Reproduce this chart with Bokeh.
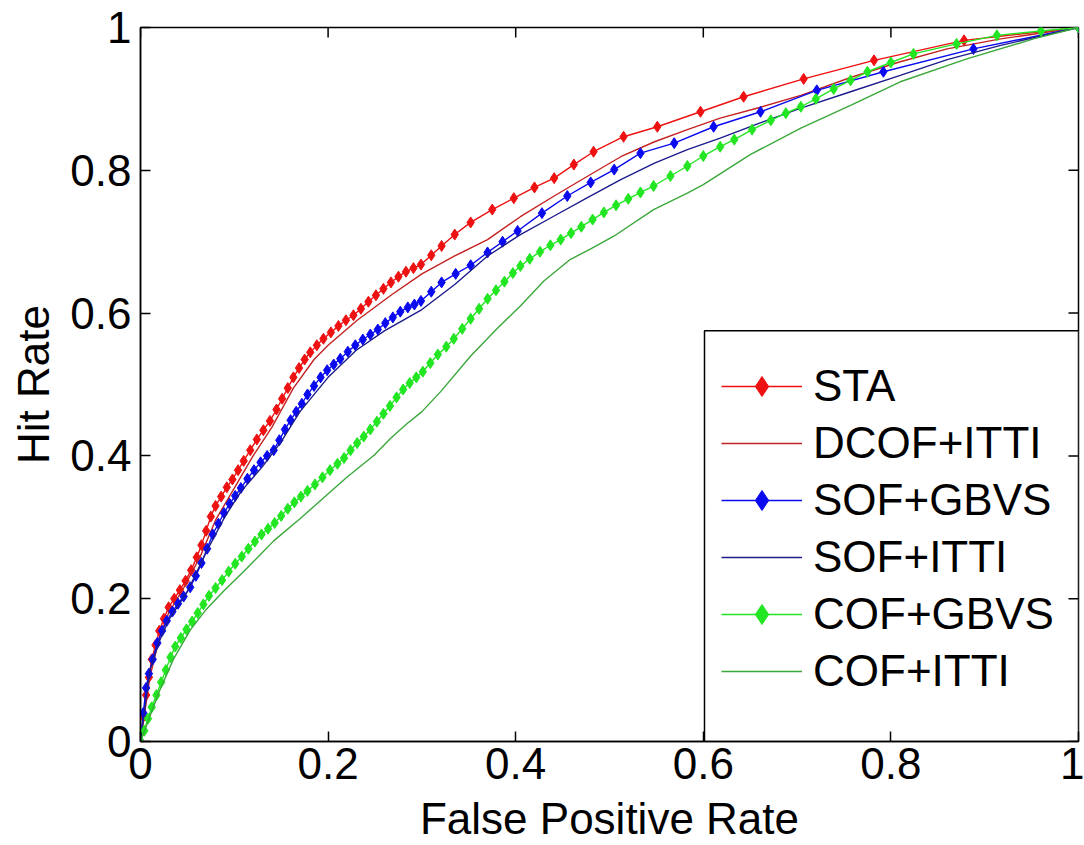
from bokeh.plotting import figure
from bokeh.models import FixedTicker, Legend, LegendItem, BoxAnnotation
from bokeh.embed import file_html
from bokeh.resources import INLINE

# ---------------- data ----------------
TICKS = [0, 0.2, 0.4, 0.6, 0.8, 1]
TICK_LABELS = ["0", "0.2", "0.4", "0.6", "0.8", "1"]

sta_fpr = [0.000, 0.003, 0.006, 0.009, 0.012, 0.016, 0.020, 0.025, 0.030, 0.036, 0.042, 0.048,
           0.054, 0.060, 0.065, 0.070, 0.075, 0.080, 0.086, 0.092, 0.098, 0.104, 0.110, 0.117,
           0.124, 0.131, 0.138, 0.145, 0.151, 0.157, 0.163, 0.169, 0.175, 0.181, 0.188, 0.195,
           0.203, 0.211, 0.219, 0.227, 0.235, 0.243, 0.251, 0.259, 0.267, 0.275, 0.283, 0.291,
           0.299, 0.310, 0.321, 0.335, 0.352, 0.375, 0.398, 0.420, 0.441, 0.462, 0.483, 0.515,
           0.551, 0.597, 0.643, 0.707, 0.782, 0.878, 1.000]
sta_hit = [0.000, 0.035, 0.065, 0.090, 0.115, 0.135, 0.155, 0.172, 0.188, 0.200, 0.212, 0.225,
           0.240, 0.258, 0.275, 0.295, 0.315, 0.330, 0.343, 0.356, 0.367, 0.380, 0.393, 0.408,
           0.423, 0.436, 0.449, 0.465, 0.480, 0.495, 0.510, 0.523, 0.535, 0.545, 0.555, 0.564,
           0.573, 0.582, 0.590, 0.597, 0.606, 0.616, 0.625, 0.634, 0.643, 0.651, 0.658, 0.663,
           0.668, 0.681, 0.694, 0.710, 0.727, 0.745, 0.761, 0.776, 0.789, 0.808, 0.826, 0.847,
           0.861, 0.882, 0.903, 0.928, 0.954, 0.982, 1.000]

dcof_fpr = [0.000, 0.010, 0.020, 0.030, 0.046, 0.064, 0.080, 0.100, 0.120, 0.140, 0.163, 0.185,
            0.200, 0.231, 0.267, 0.300, 0.335, 0.370, 0.405, 0.441, 0.477, 0.512, 0.548, 0.583,
            0.618, 0.660, 0.704, 0.757, 0.810, 0.860, 0.917, 1.000]
dcof_hit = [0.000, 0.090, 0.145, 0.180, 0.215, 0.260, 0.310, 0.355, 0.400, 0.440, 0.495, 0.535,
            0.555, 0.590, 0.625, 0.655, 0.680, 0.703, 0.735, 0.764, 0.792, 0.819, 0.840, 0.857,
            0.873, 0.888, 0.905, 0.930, 0.952, 0.970, 0.984, 1.000]

sofg_fpr = [0.000, 0.003, 0.006, 0.009, 0.013, 0.018, 0.023, 0.028, 0.034, 0.040, 0.046, 0.053,
            0.059, 0.065, 0.071, 0.077, 0.083, 0.089, 0.095, 0.101, 0.107, 0.114, 0.121, 0.128,
            0.135, 0.142, 0.148, 0.154, 0.160, 0.166, 0.172, 0.178, 0.185, 0.192, 0.199, 0.206,
            0.213, 0.221, 0.229, 0.237, 0.245, 0.253, 0.261, 0.269, 0.277, 0.285, 0.292, 0.299,
            0.310, 0.321, 0.336, 0.352, 0.370, 0.386, 0.402, 0.428, 0.455, 0.480, 0.505, 0.533,
            0.569, 0.611, 0.661, 0.721, 0.792, 0.888, 1.000]
sofg_hit = [0.000, 0.040, 0.075, 0.095, 0.115, 0.138, 0.155, 0.169, 0.182, 0.193, 0.203, 0.216,
            0.232, 0.250, 0.270, 0.290, 0.305, 0.320, 0.333, 0.344, 0.355, 0.368, 0.380, 0.391,
            0.400, 0.408, 0.422, 0.437, 0.450, 0.462, 0.473, 0.486, 0.498, 0.510, 0.520, 0.528,
            0.536, 0.546, 0.555, 0.563, 0.570, 0.577, 0.586, 0.594, 0.602, 0.608, 0.612, 0.617,
            0.630, 0.643, 0.655, 0.667, 0.685, 0.700, 0.715, 0.740, 0.764, 0.783, 0.801, 0.824,
            0.838, 0.861, 0.882, 0.912, 0.938, 0.970, 1.000]

sofi_fpr = [0.000, 0.010, 0.020, 0.030, 0.050, 0.070, 0.090, 0.107, 0.130, 0.150, 0.170, 0.200,
            0.230, 0.260, 0.300, 0.335, 0.370, 0.405, 0.441, 0.477, 0.512, 0.548, 0.583, 0.618,
            0.660, 0.704, 0.757, 0.810, 0.860, 0.917, 1.000]
sofi_hit = [0.000, 0.100, 0.140, 0.170, 0.210, 0.265, 0.315, 0.350, 0.385, 0.420, 0.462, 0.510,
            0.548, 0.575, 0.605, 0.640, 0.680, 0.710, 0.736, 0.762, 0.787, 0.810, 0.829, 0.845,
            0.866, 0.887, 0.910, 0.933, 0.955, 0.975, 1.000]

cofg_fpr = [0.000, 0.004, 0.008, 0.012, 0.017, 0.022, 0.027, 0.032, 0.037, 0.043, 0.049, 0.055,
            0.061, 0.067, 0.073, 0.080, 0.087, 0.094, 0.101, 0.108, 0.115, 0.122, 0.129, 0.136,
            0.143, 0.150, 0.157, 0.164, 0.171, 0.178, 0.186, 0.194, 0.202, 0.210, 0.217, 0.224,
            0.231, 0.238, 0.245, 0.252, 0.259, 0.266, 0.273, 0.280, 0.287, 0.294, 0.301, 0.309,
            0.317, 0.326, 0.334, 0.343, 0.352, 0.361, 0.370, 0.379, 0.388, 0.397, 0.405, 0.415,
            0.426, 0.437, 0.448, 0.459, 0.470, 0.482, 0.494, 0.507, 0.520, 0.533, 0.547, 0.565,
            0.583, 0.600, 0.618, 0.633, 0.652, 0.672, 0.688, 0.704, 0.720, 0.739, 0.757, 0.775,
            0.800, 0.824, 0.870, 0.913, 0.960, 1.000]
cofg_hit = [0.000, 0.015, 0.032, 0.048, 0.065, 0.083, 0.100, 0.118, 0.133, 0.145, 0.157, 0.168,
            0.180, 0.192, 0.204, 0.215, 0.226, 0.238, 0.249, 0.259, 0.270, 0.280, 0.290, 0.298,
            0.306, 0.316, 0.326, 0.335, 0.343, 0.351, 0.360, 0.370, 0.380, 0.389, 0.397, 0.408,
            0.418, 0.427, 0.437, 0.448, 0.459, 0.470, 0.482, 0.493, 0.502, 0.510, 0.518, 0.530,
            0.542, 0.553, 0.564, 0.578, 0.592, 0.606, 0.620, 0.632, 0.644, 0.656, 0.666, 0.676,
            0.686, 0.695, 0.703, 0.712, 0.721, 0.731, 0.741, 0.751, 0.760, 0.769, 0.778, 0.792,
            0.806, 0.820, 0.833, 0.843, 0.857, 0.870, 0.880, 0.889, 0.900, 0.914, 0.926, 0.938,
            0.951, 0.963, 0.977, 0.989, 0.995, 1.000]

cofi_fpr = [0.000, 0.010, 0.020, 0.035, 0.053, 0.070, 0.089, 0.110, 0.125, 0.142, 0.170, 0.195,
            0.220, 0.249, 0.267, 0.284, 0.300, 0.320, 0.352, 0.380, 0.405, 0.430, 0.458, 0.480,
            0.505, 0.547, 0.583, 0.600, 0.650, 0.704, 0.757, 0.810, 0.881, 0.952, 1.000]
cofi_hit = [0.000, 0.035, 0.070, 0.115, 0.156, 0.185, 0.211, 0.238, 0.258, 0.281, 0.312, 0.341,
            0.370, 0.401, 0.425, 0.445, 0.462, 0.490, 0.540, 0.578, 0.610, 0.645, 0.675, 0.690,
            0.708, 0.745, 0.768, 0.780, 0.822, 0.859, 0.891, 0.924, 0.956, 0.984, 1.000]

X_LABEL = "False Positive Rate"
Y_LABEL = "Hit Rate"

# ---------------- layout constants ----------------
FONT = "Liberation Sans"
FS = "44px"
W, H = 1084, 845
BL, BR, BT, BB = 140, 6, 27, 100
FRAME_W = W - BL - BR
FRAME_H = H - BT - BB
LEGEND_LEFT_PX = 564              # from frame left
LEGEND_TOP_PX = 413               # from frame bottom
TICK_LEN = 10

p = figure(width=W, height=H, x_range=(0, 1), y_range=(0, 1),
           output_backend="svg", toolbar_location=None,
           min_border_left=BL, min_border_right=BR, min_border_top=BT, min_border_bottom=BB)
p.xgrid.visible = False
p.ygrid.visible = False
p.outline_line_color = "black"
p.outline_line_width = 1.5
p.outline_line_alpha = 1.0
p.background_fill_color = "white"
p.border_fill_color = "white"

overrides = dict(zip(TICKS, TICK_LABELS))
for ax in (p.xaxis[0], p.yaxis[0]):
    ax.ticker = FixedTicker(ticks=TICKS)
    ax.major_label_overrides = overrides
    ax.major_tick_in = TICK_LEN
    ax.major_tick_out = 0
    ax.minor_tick_in = 0
    ax.minor_tick_out = 0
    ax.axis_line_color = "black"
    ax.axis_line_width = 1.5
    ax.major_tick_line_color = "black"
    ax.major_tick_line_width = 1.5
    ax.major_label_text_font = FONT
    ax.major_label_text_font_size = FS
    ax.major_label_text_color = "black"
    ax.axis_label_text_font = FONT
    ax.axis_label_text_font_size = FS
    ax.axis_label_text_font_style = "normal"
    ax.axis_label_text_color = "black"

p.xaxis[0].axis_label = X_LABEL
p.xaxis[0].major_label_standoff = 6
p.xaxis[0].axis_label_standoff = 12
p.yaxis[0].axis_label = Y_LABEL
p.yaxis[0].major_label_standoff = 9
p.yaxis[0].axis_label_standoff = 9

# inward ticks on the top and right edges of the box (length given in pixels)
n = len(TICKS)
p.segment(x0=TICKS, y0=[1] * n, x1=TICKS, y1=[1 - TICK_LEN / FRAME_H] * n,
          line_color="black", line_width=1.5)
p.segment(x0=[1] * n, y0=TICKS, x1=[1 - TICK_LEN / FRAME_W] * n, y1=TICKS,
          line_color="black", line_width=1.5)

# legend frame (white box with black border)
box = BoxAnnotation(left=LEGEND_LEFT_PX / FRAME_W, right=1.0, bottom=0.0,
                    top=LEGEND_TOP_PX / FRAME_H,
                    fill_color="white", fill_alpha=1.0, line_color="black",
                    line_width=1.5, line_alpha=1.0, level="underlay")
p.add_layout(box)

series = [
    ("STA", sta_fpr, sta_hit, "#ee1111", True),
    ("DCOF+ITTI", dcof_fpr, dcof_hit, "#c42222", False),
    ("SOF+GBVS", sofg_fpr, sofg_hit, "#0a0af0", True),
    ("SOF+ITTI", sofi_fpr, sofi_hit, "#1c1c8c", False),
    ("COF+GBVS", cofg_fpr, cofg_hit, "#22e622", True),
    ("COF+ITTI", cofi_fpr, cofi_hit, "#3aa83a", False),
]

items = []
for name, xs, ys, col, marked in series:
    rs = [p.line(xs, ys, line_color=col, line_width=1.4)]
    if marked:
        rs.append(p.scatter(xs, ys, marker="diamond", size=11, fill_color=col,
                            line_color=col, line_width=1))
    items.append(LegendItem(label=name, renderers=rs))

legend = Legend(items=items, location=(581, 45), padding=0, margin=0,
                border_line_alpha=0, background_fill_alpha=0,
                glyph_width=81, glyph_height=50, label_height=50, spacing=7,
                label_standoff=11, label_text_font=FONT, label_text_font_size=FS,
                label_text_color="black")
p.add_layout(legend)

open("out.html", "w").write(file_html(p, INLINE))
